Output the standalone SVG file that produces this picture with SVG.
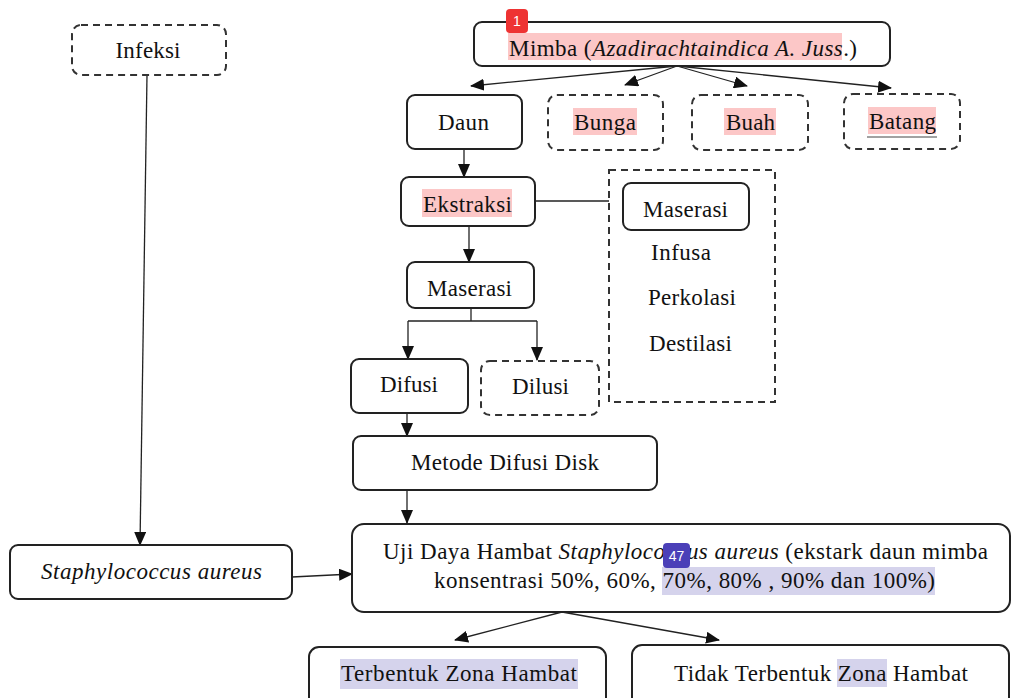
<svg xmlns="http://www.w3.org/2000/svg" width="1011" height="698" viewBox="0 0 1011 698">
<defs>
<marker id="ah" markerWidth="14" markerHeight="12" refX="13" refY="6" orient="auto" markerUnits="userSpaceOnUse">
<path d="M0,0 L14,6 L0,12 Z" fill="#111"/>
</marker>
<style>
.box{fill:#fff;stroke:#222;stroke-width:2}
.dash{fill:#fff;stroke:#333;stroke-width:2;stroke-dasharray:7 5}
.t{font-family:"Liberation Serif","Times New Roman",serif;font-size:23px;fill:#111;text-anchor:middle}
.i{font-style:italic}
.hp{fill:#fcc7c7}
.hv{fill:#d5d3ec}
.ln{fill:none;stroke:#222;stroke-width:1.3}
.badge{font-family:"Liberation Sans",Arial,sans-serif;font-size:14px;fill:#fff;text-anchor:middle}
</style>
</defs>
<rect width="1011" height="698" fill="#fff"/>

<g id="connectors">
<line class="ln" x1="677" y1="66" x2="471" y2="86" marker-end="url(#ah)"/>
<line class="ln" x1="677" y1="66" x2="625" y2="85" marker-end="url(#ah)"/>
<line class="ln" x1="677" y1="66" x2="747" y2="86" marker-end="url(#ah)"/>
<line class="ln" x1="677" y1="66" x2="891" y2="88" marker-end="url(#ah)"/>
<line class="ln" x1="464" y1="149" x2="464" y2="177" marker-end="url(#ah)"/>
<line class="ln" x1="535" y1="201" x2="609" y2="201"/>
<line class="ln" x1="469" y1="226" x2="469" y2="262" marker-end="url(#ah)"/>
<polyline class="ln" points="471,308 471,321"/>
<polyline class="ln" points="408,321 537,321"/>
<line class="ln" x1="408" y1="321" x2="408" y2="359" marker-end="url(#ah)"/>
<line class="ln" x1="537" y1="321" x2="537" y2="360" marker-end="url(#ah)"/>
<line class="ln" x1="407" y1="413" x2="407" y2="436" marker-end="url(#ah)"/>
<line class="ln" x1="407" y1="490" x2="407" y2="523" marker-end="url(#ah)"/>
<line class="ln" x1="147" y1="75" x2="140" y2="545" marker-end="url(#ah)"/>
<line class="ln" x1="292" y1="577" x2="352" y2="574" marker-end="url(#ah)"/>
<line class="ln" x1="562" y1="612" x2="455" y2="640" marker-end="url(#ah)"/>
<line class="ln" x1="562" y1="612" x2="719" y2="640" marker-end="url(#ah)"/>
</g>

<g id="infeksi">
<rect class="dash" x="72" y="25" width="154" height="50" rx="9"/>
<text class="t" x="148" y="58" textLength="65">Infeksi</text>
</g>

<g id="mimba">
<rect class="box" x="474" y="22" width="416" height="44" rx="8"/>
<rect class="hp" x="508" y="33" width="334" height="27"/>
<text class="t" x="683" y="56" textLength="348">Mimba (<tspan class="i">Azadirachtaindica A. Juss</tspan>.)</text>
</g>

<g id="daun">
<rect class="box" x="407" y="95" width="115" height="54" rx="8"/>
<text class="t" x="463.5" y="130" textLength="51">Daun</text>
</g>

<g id="bunga">
<rect class="dash" x="548" y="95" width="115" height="55" rx="9"/>
<rect class="hp" x="573" y="108" width="64" height="27"/>
<text class="t" x="605" y="130" textLength="62">Bunga</text>
</g>

<g id="buah">
<rect class="dash" x="692" y="95" width="116" height="55" rx="9"/>
<rect class="hp" x="724" y="108" width="52" height="27"/>
<text class="t" x="750.5" y="130" textLength="49">Buah</text>
</g>

<g id="batang">
<rect class="dash" x="844" y="94" width="116" height="55" rx="9"/>
<rect class="hp" x="868" y="107" width="68" height="27"/>
<text class="t" x="902.5" y="129" textLength="67">Batang</text>
<line x1="867" y1="137" x2="937" y2="137" stroke="#444" stroke-width="1"/>
</g>

<g id="ekstraksi">
<rect class="box" x="401" y="177" width="134" height="49" rx="8"/>
<rect class="hp" x="422" y="189" width="90" height="28"/>
<text class="t" x="467.5" y="212" textLength="89">Ekstraksi</text>
</g>

<g id="metode-ekstraksi">
<rect class="dash" x="609" y="170" width="166" height="232" rx="0" fill="none"/>
<rect class="box" x="623" y="183" width="126" height="47" rx="8"/>
<text class="t" x="685.5" y="217" textLength="85">Maserasi</text>
<text class="t" x="681" y="260" textLength="60">Infusa</text>
<text class="t" x="692" y="305" textLength="88">Perkolasi</text>
<text class="t" x="690.5" y="351" textLength="83">Destilasi</text>
</g>

<g id="maserasi">
<rect class="box" x="407" y="262" width="127" height="46" rx="8"/>
<text class="t" x="469.5" y="296" textLength="85">Maserasi</text>
</g>

<g id="difusi">
<rect class="box" x="351" y="359" width="117" height="54" rx="8"/>
<text class="t" x="409" y="392" textLength="58">Difusi</text>
</g>

<g id="dilusi">
<rect class="dash" x="481" y="361" width="118" height="54" rx="9"/>
<text class="t" x="540.5" y="394" textLength="57">Dilusi</text>
</g>

<g id="metode-difusi-disk">
<rect class="box" x="353" y="436" width="304" height="54" rx="8"/>
<text class="t" x="505" y="470" textLength="188">Metode Difusi Disk</text>
</g>

<g id="staphylococcus">
<rect class="box" x="10" y="545" width="282" height="54" rx="8"/>
<text class="t i" x="151.5" y="579" textLength="221">Staphylococcus aureus</text>
</g>

<g id="uji">
<rect class="box" x="352" y="524" width="658" height="88" rx="12"/>
<rect class="hv" x="662" y="567" width="273" height="28"/>
<text class="t" x="685.5" y="559" textLength="605">Uji Daya Hambat <tspan class="i">Staphylococcus aureus</tspan> (ekstark daun mimba</text>
<text class="t" x="684.5" y="588" textLength="501">konsentrasi 50%, 60%, 70%, 80% , 90% dan 100%)</text>
<rect x="663" y="543" width="27" height="25" rx="4" fill="#4b40b8"/>
<text class="badge" x="676.5" y="561">47</text>
</g>

<g id="terbentuk">
<rect class="box" x="309" y="647" width="297" height="70" rx="10"/>
<rect class="hv" x="340" y="659" width="238" height="30"/>
<text class="t" x="459" y="681" textLength="236">Terbentuk Zona Hambat</text>
</g>

<g id="tidak-terbentuk">
<rect class="box" x="632" y="645" width="377" height="72" rx="10"/>
<rect class="hv" x="837" y="659" width="50" height="28"/>
<text class="t" x="821" y="681" textLength="294">Tidak Terbentuk Zona Hambat</text>
</g>

<g id="badge-1">
<rect x="506" y="9" width="22" height="24" rx="4" fill="#ee3333"/>
<text class="badge" x="517" y="26">1</text>
</g>
</svg>
